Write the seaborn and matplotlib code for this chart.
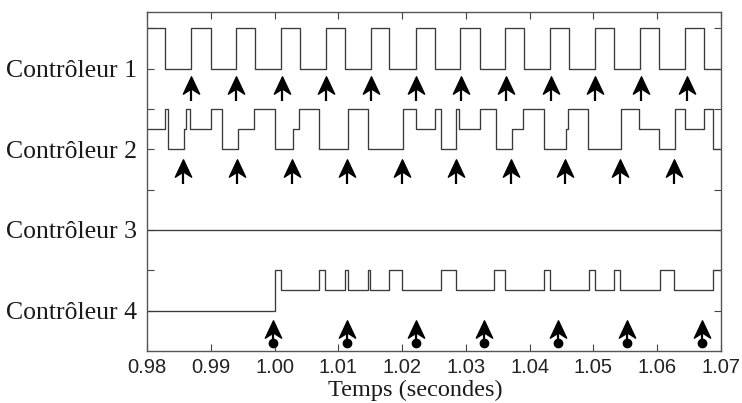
import numpy as np
import pandas as pd
import matplotlib
matplotlib.use("Agg")
import matplotlib.pyplot as plt
import seaborn as sns
from matplotlib.path import Path

# ---------------- data ----------------
x_ticks = [0.98, 0.99, 1.00, 1.01, 1.02, 1.03, 1.04, 1.05, 1.06, 1.07]
channel_labels = ["Contrôleur 1", "Contrôleur 2", "Contrôleur 3", "Contrôleur 4"]

# switching instants (s) and logic state (0 = low, 0.5 = mid, 1 = high)
c1_times = [0.9800, 0.9828, 0.9869, 0.9900, 0.9940, 0.9970, 1.0010, 1.0040, 1.0080,
            1.0111, 1.0151, 1.0180, 1.0221, 1.0251, 1.0291, 1.0322, 1.0362, 1.0391,
            1.0432, 1.0461, 1.0502, 1.0532, 1.0573, 1.0603, 1.0643, 1.0674]
c1_states = [1, 0, 1, 0, 1, 0, 1, 0, 1, 0, 1, 0, 1, 0, 1, 0, 1, 0, 1, 0, 1, 0, 1, 0, 1, 0]

c2_times = [0.98000, 0.98289, 0.98331, 0.98577, 0.98604, 0.98682, 0.98997, 0.99181,
            0.99428, 0.99680, 1.00011, 1.00283, 1.00389, 1.00703, 1.01155, 1.01459,
            1.02010, 1.02220, 1.02520, 1.02609, 1.02850, 1.02887, 1.03218, 1.03465,
            1.03727, 1.03900, 1.04231, 1.04572, 1.04598, 1.04913, 1.05428, 1.05716,
            1.06032, 1.06278, 1.06436, 1.06735, 1.06882]
c2_states = [0.5, 1, 0, 0.5, 1, 0.5, 1, 0, 0.5, 1, 0, 0.5, 1, 0, 1, 0, 1, 0.5, 1, 0,
             1, 0.5, 1, 0, 0.5, 1, 0, 0.5, 1, 0, 1, 0.5, 0, 1, 0.5, 1, 0]

c3_times = [0.98]
c3_states = [0]

c4_times = [0.98000, 1.00000, 1.00105, 1.00698, 1.00787, 1.01102, 1.01155, 1.01459,
            1.01501, 1.01800, 1.01999, 1.02614, 1.02850, 1.03444, 1.03612, 1.04226,
            1.04320, 1.04934, 1.05018, 1.05330, 1.05423, 1.06037, 1.06263, 1.06882]
c4_states = [0, 1, 0.5, 1, 0.5, 1, 0.5, 1, 0.5, 1, 0.5, 1, 0.5, 1, 0.5, 1, 0.5, 1,
             0.5, 1, 0.5, 1, 0.5, 1]

# event arrows
c1_arrows = [0.9869, 0.9940, 1.0011, 1.0081, 1.0151, 1.0222, 1.0293, 1.0363,
             1.0433, 1.0503, 1.0574, 1.0646]
c2_arrows = [0.9857, 0.9941, 1.0028, 1.0113, 1.0200, 1.0285, 1.0371, 1.0456,
             1.0541, 1.0626]
c4_arrows = [0.9998, 1.0113, 1.0221, 1.0329, 1.0445, 1.0553, 1.0670]

# ---------------- layout / style ----------------
T_START, T_END = 0.98, 1.07
baselines = [7, 5, 3, 1]
sig_color = "#3a3a3a"

sns.set_style("ticks")
plt.rcParams["font.family"] = ["Liberation Sans", "DejaVu Sans"]

fig = plt.figure(figsize=(7.42, 4.03), dpi=100)
ax = fig.add_axes([147 / 742, 1 - 351 / 403, (721 - 147) / 742, (351 - 12) / 403])


def step_frame(times, states, base):
    t = list(times) + [T_END]
    s = list(states) + [states[-1]]
    return pd.DataFrame({"t": t, "y": [base + v for v in s]})


for times, states, base in zip([c1_times, c2_times, c3_times, c4_times],
                               [c1_states, c2_states, c3_states, c4_states],
                               baselines):
    df = step_frame(times, states, base)
    sns.lineplot(data=df, x="t", y="y", ax=ax, estimator=None, sort=False,
                 drawstyle="steps-post", color=sig_color, linewidth=0.95)

# arrow head marker (concave back)
head = Path([(0, 0.5), (0.47, -0.5), (0, -0.2), (-0.47, -0.5), (0, 0.5)],
            [Path.MOVETO, Path.LINETO, Path.LINETO, Path.LINETO, Path.CLOSEPOLY])


def draw_arrows(times, base_y, tip_y, dot=False):
    ax.vlines(times, base_y, tip_y - 0.25, color="black", linewidth=1.6)
    ax.plot(times, [tip_y - 0.2] * len(times), linestyle="none", marker=head,
            markersize=12.5, color="black")
    if dot:
        ax.plot(times, [base_y] * len(times), linestyle="none", marker="o",
                markersize=6, color="black")


draw_arrows(c1_arrows, 6.2, 6.79)
draw_arrows(c2_arrows, 4.15, 4.74)
draw_arrows(c4_arrows, 0.19, 0.75, dot=True)

ax.set_xlim(T_START, T_END)
ax.set_ylim(0, 8.4)
ax.set_xticks(x_ticks)
ax.set_xticklabels([f"{v:.2f}" for v in x_ticks], fontsize=14.5, color="#222222",
                   family=["Liberation Sans", "DejaVu Sans"])
ax.set_yticks([1, 2, 3, 4, 5, 6, 7, 8])
ax.set_yticklabels([channel_labels[3], "", channel_labels[2], "", channel_labels[1], "",
                    channel_labels[0], ""], fontsize=18.5, color="#1a1a1a",
                   family=["Liberation Serif", "DejaVu Serif"])
ax.set_xlabel("Temps (secondes)", fontsize=17.5, color="#1a1a1a",
              family=["Liberation Serif", "DejaVu Serif"])
ax.xaxis.set_label_coords((415.5 - 147) / 574, -0.085)
ax.set_ylabel("")

ax.tick_params(direction="in", length=5, width=0.8, top=True, right=True,
               color="#444444")
ax.tick_params(axis="x", pad=5)
ax.tick_params(axis="y", pad=7)
for sp in ax.spines.values():
    sp.set_visible(True)
    sp.set_color("#555555")
    sp.set_linewidth(1.0)

fig.savefig("out.png", dpi=100)
